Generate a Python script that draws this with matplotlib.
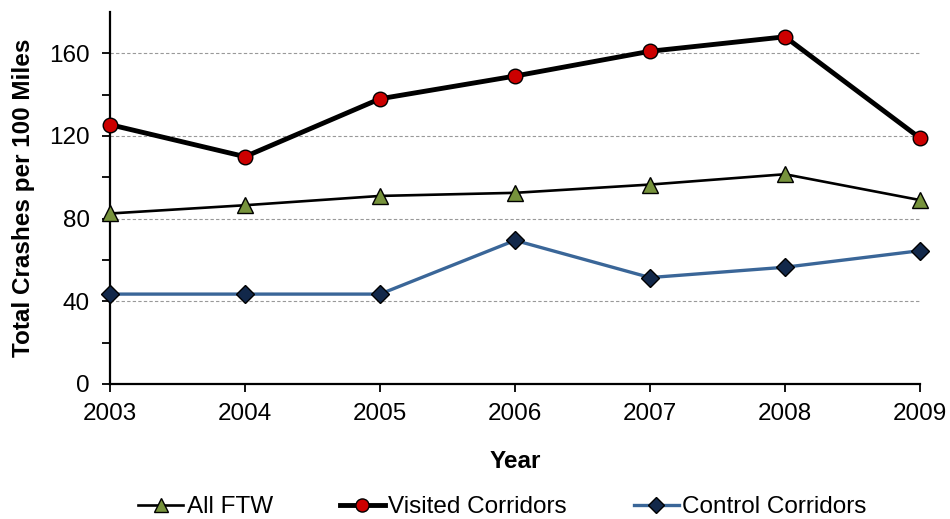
import numpy as np
import matplotlib.pyplot as plt

plt.rcParams['font.family'] = ['Liberation Sans', 'DejaVu Sans']

# Crash rates per 100 miles by year
years = [2003, 2004, 2005, 2006, 2007, 2008, 2009]
all_ftw = [82.5, 86.5, 91, 92.5, 96.5, 101.5, 89]
visited = [125.5, 110, 138, 149, 161, 168, 119]
control = [43.5, 43.5, 43.5, 69.5, 51.5, 56.5, 64.5]

fig = plt.figure(figsize=(9.5, 5.19), dpi=100)
ax = fig.add_axes([110 / 950, 1 - 384 / 519, 810 / 950, 372 / 519])

ax.plot(years, all_ftw, color='black', lw=1.9, marker='^', ms=11.5,
        mfc='#77933C', mec='black', mew=1.0, label='All FTW', zorder=3)
ax.plot(years, visited, color='black', lw=3.5, marker='o', ms=10.5,
        mfc='#CC0000', mec='black', mew=1.0, label='Visited Corridors', zorder=4)
ax.plot(years, control, color='#3A6698', lw=2.4, marker='D', ms=9,
        mfc='#12284A', mec='black', mew=1.0, label='Control Corridors', zorder=3)

ax.set_xlim(2003, 2009)
ax.set_ylim(0, 180)
ax.set_xticks(years)
ax.set_yticks(np.arange(0, 161, 40))
ax.set_yticks(np.arange(20, 180, 40), minor=True)
for y in [40, 80, 120, 160]:
    ax.axhline(y, color='#999999', lw=0.8, ls=(0, (3, 2)), zorder=1)

for s in ['top', 'right']:
    ax.spines[s].set_visible(False)
for s in ['left', 'bottom']:
    ax.spines[s].set_linewidth(1.6)
ax.tick_params(axis='both', which='both', direction='out', length=5.5, width=1.3,
               labelsize=17.5)
ax.tick_params(axis='x', pad=8)
ax.tick_params(axis='y', pad=9)

ax.set_xlabel('Year', fontsize=17.5, fontweight='bold', labelpad=18)
ax.set_ylabel('Total Crashes per 100 Miles', fontsize=17.5, fontweight='bold', labelpad=10)

for line in ax.get_lines():
    line.set_clip_on(False)

fig.legend(loc='center', bbox_to_anchor=(0.529, 1 - 507 / 519), ncol=3,
           frameon=False, fontsize=17.5, handlelength=1.85, handletextpad=0.15,
           columnspacing=2.75, markerscale=0.9, borderpad=0, borderaxespad=0)

fig.savefig('out.png', dpi=100)
